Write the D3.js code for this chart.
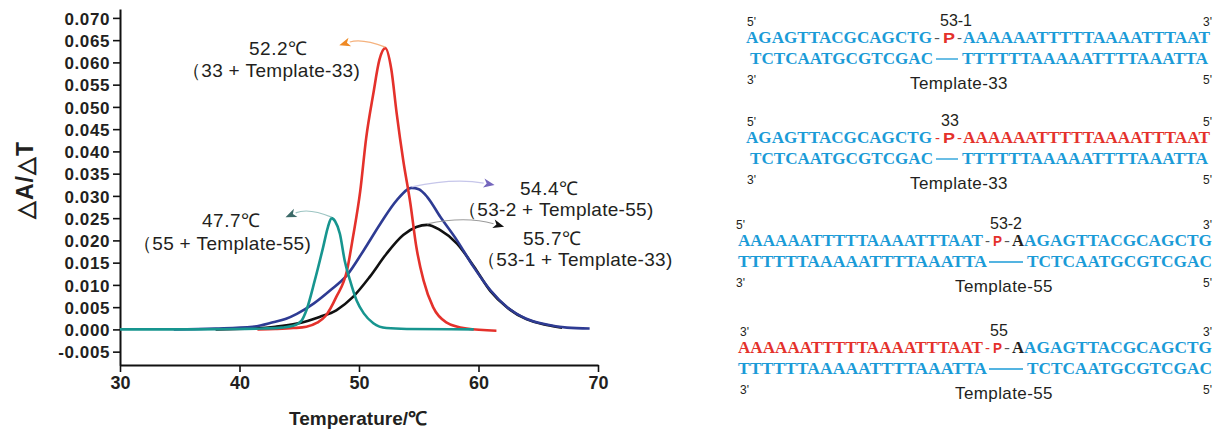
<!DOCTYPE html>
<html>
<head>
<meta charset="utf-8">
<script src="https://cdn.jsdelivr.net/npm/d3@7"></script>
<style>
  body { margin: 0; background: #fff; }
  svg { display: block; }
</style>
</head>
<body>
<div id="container"></div>
<script>
// DATA

const temp33 = [41.5, 43, 44.5, 45.6, 46.5, 47.2, 48.1, 49.0, 49.5, 50.1, 50.6, 51.2, 51.7, 52.2, 52.7, 53.15, 53.7, 54.3, 54.8, 55.4, 56.2, 57.3, 59, 61.5]
const val33  = [0, 0.0001, 0.0003, 0.0006, 0.0015, 0.003, 0.0073, 0.0133, 0.0208, 0.031, 0.043, 0.053, 0.0605, 0.0632, 0.0585, 0.0486, 0.038, 0.0283, 0.0185, 0.011, 0.005, 0.0016, 0.0002, -0.0003]

const temp55 = [30, 35, 40, 42, 43.5, 44.5, 45.2, 45.6, 46.3, 47.0, 47.4, 47.7, 48.0, 48.4, 48.8, 49.25, 49.8, 50.4, 51.2, 52.3, 54, 59.6]
const val55  = [0, 0, 0.0001, 0.0002, 0.0004, 0.0008, 0.002, 0.0043, 0.011, 0.0185, 0.023, 0.025, 0.0243, 0.0215, 0.0155, 0.011, 0.0065, 0.0036, 0.0014, 0.0003, 0.0001, 0]

const temp53_2 = [34.5, 38, 41.1, 42.8, 43.9, 44.8, 46.2, 47.6, 49.0, 50.4, 51.8, 53.15, 54.4, 55.0, 55.7, 56.8, 58.2, 59.6, 61.0, 62.4, 64.0, 65.7, 67.4, 69.3]
const val53_2  = [0, 0.0002, 0.0006, 0.0016, 0.0024, 0.0035, 0.0058, 0.0088, 0.0122, 0.0178, 0.0238, 0.029, 0.0318, 0.0315, 0.0298, 0.0253, 0.020, 0.014, 0.0088, 0.005, 0.0024, 0.0011, 0.0004, 0.0002]

const temp53_1 = [38, 41, 43, 44.8, 46.7, 48.1, 49.5, 50.9, 52.3, 53.7, 54.8, 55.7, 56.8, 58.2, 59.6, 61.0, 62.4, 64, 65.7, 67]
const val53_1  = [0, 0.0002, 0.0006, 0.0013, 0.0028, 0.0043, 0.0073, 0.0118, 0.017, 0.0212, 0.023, 0.0235, 0.0223, 0.0193, 0.0142, 0.0086, 0.0049, 0.0023, 0.001, 0.0004]

const seriesNames = ["53-1", "53-2", "33", "55"]
const meltTemps = ["55.7℃", "54.4℃", "52.2℃", "47.7℃"]
const pairLabels = ["（53-1 + Template-33)", "（53-2 + Template-55)", "（33 + Template-33)", "（55 + Template-55)"]

const yTicks = [-0.005, 0, 0.005, 0.01, 0.015, 0.02, 0.025, 0.03, 0.035, 0.04, 0.045, 0.05, 0.055, 0.06, 0.065, 0.07]
const xTicks = [30, 40, 50, 60, 70]

const seqA = "AGAGTTACGCAGCTG"
const seqB = "AAAAAATTTTTAAAATTTAAT"
const tmplA = "TCTCAATGCGTCGAC"
const tmplB = "TTTTTTAAAAATTTTAAATTA"
const duplexNames = ["53-1", "33", "53-2", "55"]
const templateNames = ["Template-33", "Template-33", "Template-55", "Template-55"]

// VARIABLES

const width = 1222,
      height = 432,
      margin = {top: 9, bottom: 67, left: 120, right: 624}

const colors = {"33": "#e4312b", "55": "#17958f", "53-2": "#2e3b93", "53-1": "#111111"}
const blue = "#1b9bd7", red = "#e4312b", ink = "#231f20", gray = "#555"

// SCALES

const xScale = d3.scaleLinear()
    .domain([30, 70])
    .range([margin.left, width - margin.right])

const yScale = d3.scaleLinear()
    .domain([-0.008, 0.072])
    .range([height - margin.bottom, margin.top])

// ELEMENTS

const svg = d3.select("#container")
    .append("svg")
    .attr("width", width)
    .attr("height", height)
    .style("font-family", "Arial, 'Liberation Sans', sans-serif")

const fmt = d => d3.format(".3f")(d).replace("−", "-")

const yAxis = d3.axisLeft(yScale).tickValues(yTicks).tickFormat(fmt).tickSize(7).tickSizeOuter(0)
const yMinor = d3.axisLeft(yScale).tickValues(d3.range(-0.0075, 0.072, 0.005)).tickFormat("").tickSize(4).tickSizeOuter(0)
const xAxis = d3.axisBottom(xScale).tickValues(xTicks).tickSize(7).tickSizeOuter(0)
const xMinor = d3.axisBottom(xScale).tickValues(d3.range(35, 70, 10)).tickFormat("").tickSize(4).tickSizeOuter(0)

const gy = svg.append("g").attr("transform", `translate(${margin.left},0)`)
gy.call(yMinor)
gy.call(yAxis)
const gx = svg.append("g").attr("transform", `translate(0,${height - margin.bottom})`)
gx.call(xMinor)
gx.call(xAxis)

svg.selectAll(".domain").attr("stroke", "#111").attr("stroke-width", 2)
svg.selectAll(".tick line").attr("stroke", "#111").attr("stroke-width", 1.6)
gy.selectAll("text").attr("font-size", 17).attr("font-weight", "bold").attr("fill", ink)
  .attr("x", -10).attr("dy", "0.36em").style("letter-spacing", "0.6px")
gx.selectAll("text").attr("font-size", 18).attr("font-weight", "bold").attr("fill", ink).attr("y", 11)

svg.append("text")
    .attr("x", 358).attr("y", 425)
    .attr("text-anchor", "middle")
    .attr("font-size", 19).attr("font-weight", "bold").attr("fill", ink)
    .text("Temperature/℃")

svg.append("text")
    .attr("transform", "translate(33,180) rotate(-90)")
    .attr("text-anchor", "middle")
    .attr("font-size", 23).attr("font-weight", "bold").attr("fill", ink)
    .style("letter-spacing", "1px")
    .text("△A/△T")

// SELECT-JOIN-DRAW

const series = [
  {name: "53-1", t: temp53_1, v: val53_1},
  {name: "53-2", t: temp53_2, v: val53_2},
  {name: "33", t: temp33, v: val33},
  {name: "55", t: temp55, v: val55}
]

const line = d3.line()
    .x(d => xScale(d[0]))
    .y(d => yScale(d[1]))
    .curve(d3.curveMonotoneX)

svg.selectAll("path.curve")
    .data(series)
    .join("path")
    .attr("class", "curve")
    .attr("d", s => line(d3.zip(s.t, s.v)))
    .attr("fill", "none")
    .attr("stroke", s => colors[s.name])
    .attr("stroke-width", 2.6)
    .attr("stroke-linejoin", "round")

// ANNOTATIONS

const annot = {
  "53-1": {dx: 77, dy: 3, bend: 6, line: "#9c9c9c", head: "#111", tx: [523, 477], ty: [245, 266]},
  "53-2": {dx: 83, dy: -2, bend: 5, line: "#c6c6ea", head: "#7466bd", tx: [520, 458], ty: [195, 216]},
  "33":   {dx: -46, dy: -2, bend: 5, line: "#f5b27e", head: "#ef8a25", tx: [249, 182], ty: [55, 77]},
  "55":   {dx: -46, dy: 0, bend: 6, line: "#9cc4c2", head: "#3c6a68", tx: [202, 133], ty: [227, 250]}
}

series.forEach((s, i) => {
  const k = d3.maxIndex(s.v)
  const x0 = xScale(s.t[k]), y0 = yScale(s.v[k]) - 1
  const a = annot[s.name]
  const x1 = x0 + a.dx, y1 = y0 + a.dy
  const cx = (x0 + x1) / 2, cy = (y0 + y1) / 2 - a.bend * 1.6
  const ang = Math.atan2(y1 - cy, x1 - cx)
  const len = 11, hw = 4.5
  const bx = x1 - len * Math.cos(ang), by = y1 - len * Math.sin(ang)
  svg.append("path")
      .attr("d", `M${x0},${y0}Q${cx},${cy} ${bx},${by}`)
      .attr("fill", "none").attr("stroke", a.line).attr("stroke-width", 1.2)
  svg.append("path")
      .attr("d", `M${x1},${y1}L${bx - hw * Math.sin(ang)},${by + hw * Math.cos(ang)}L${bx + 3 * Math.cos(ang)},${by + 3 * Math.sin(ang)}L${bx + hw * Math.sin(ang)},${by - hw * Math.cos(ang)}Z`)
      .attr("fill", a.head)
  const idx = seriesNames.indexOf(s.name)
  svg.append("text").attr("x", a.tx[0]).attr("y", a.ty[0])
      .attr("font-size", 19).attr("fill", ink).style("letter-spacing", "0.5px")
      .text(meltTemps[idx])
  svg.append("text").attr("x", a.tx[1]).attr("y", a.ty[1])
      .attr("font-size", 19).attr("fill", ink).style("letter-spacing", "0.3px")
      .text(pairLabels[idx])
})

// DUPLEX PANELS

const panels = [
  {y: 0, ends: ["5'", "3'"], endX: 747, nameX: 956,
   top: [[seqA, blue, 746, 932, "s"], ["-", gray, 934, 940, "h"], ["P", red, 943, 955, "p"], ["-", gray, 957, 962, "h"], [seqB, blue, 963, 1210, "s"]],
   bot: [[tmplA, blue, 750, 933], [null, blue, 936, 958], [tmplB, blue, 962, 1208]], tmplX: 959},
  {y: 100, ends: ["5'", "5'"], endX: 747, nameX: 950,
   top: [[seqA, blue, 746, 932, "s"], ["-", red, 935, 940, "h"], ["P", red, 943, 955, "p"], ["-", red, 957, 962, "h"], [seqB, red, 963, 1210, "s"]],
   bot: [[tmplA, blue, 750, 933], [null, blue, 936, 958], [tmplB, blue, 962, 1208]], tmplX: 959},
  {y: 203, ends: ["5'", "3'"], endX: 736, nameX: 1006,
   top: [[seqB, blue, 738, 983, "s"], ["-", gray, 985, 990, "h"], ["P", red, 993, 1002, "p"], ["-", gray, 1004, 1010, "h"], ["A", ink, 1012, 1024, "s"], [seqA, blue, 1024, 1212, "s"]],
   bot: [[tmplB, blue, 738, 987], [null, blue, 989, 1023], [tmplA, blue, 1027, 1212]], tmplX: 1004},
  {y: 310, ends: ["3'", "3'"], endX: 740, nameX: 999,
   top: [[seqB, red, 738, 983, "s"], ["-", red, 985, 990, "h"], ["P", red, 993, 1002, "p"], ["-", gray, 1004, 1010, "h"], ["A", ink, 1012, 1024, "s"], [seqA, blue, 1024, 1212, "s"]],
   bot: [[tmplB, blue, 738, 987], [null, blue, 989, 1023], [tmplA, blue, 1027, 1212]], tmplX: 1004}
]

panels.forEach((p, i) => {
  const g = svg.append("g").attr("transform", `translate(0,${p.y})`)
  const by = 43
  // end labels
  g.append("text").attr("x", p.endX).attr("y", 26).attr("font-size", 12).attr("fill", ink).text(p.ends[0])
  g.append("text").attr("x", 1203).attr("y", 26).attr("font-size", 12).attr("fill", ink).text(p.ends[1])
  g.append("text").attr("x", p.endX).attr("y", 84).attr("font-size", 12).attr("fill", ink).text("3'")
  g.append("text").attr("x", 1203).attr("y", 84).attr("font-size", 12).attr("fill", ink).text("5'")
  g.append("text").attr("x", p.nameX).attr("y", 26).attr("text-anchor", "middle")
      .attr("font-size", 16).attr("fill", ink).text(duplexNames[i])
  g.append("text").attr("x", p.tmplX).attr("y", 89).attr("text-anchor", "middle")
      .attr("font-size", 17).attr("fill", ink).style("letter-spacing", "0.4px").text(templateNames[i])
  // top strand
  p.top.forEach(([txt, col, x0, x1, kind]) => {
    const t = g.append("text").attr("x", x0).attr("y", by).attr("fill", col).text(txt)
    if (kind === "s") {
      t.attr("font-family", "'Liberation Serif', 'Times New Roman', serif").attr("font-weight", "bold")
       .attr("font-size", 17).attr("textLength", x1 - x0).attr("lengthAdjust", "spacingAndGlyphs")
    } else if (kind === "p") {
      t.attr("font-weight", "bold").attr("font-size", 15).attr("textLength", x1 - x0).attr("lengthAdjust", "spacingAndGlyphs")
    } else {
      t.attr("font-size", 15).attr("textLength", x1 - x0).attr("lengthAdjust", "spacingAndGlyphs")
    }
  })
  // bottom strand
  p.bot.forEach(([txt, col, x0, x1]) => {
    if (txt === null) {
      g.append("line").attr("x1", x0).attr("x2", x1).attr("y1", 59).attr("y2", 59)
          .attr("stroke", col).attr("stroke-width", 1.3)
    } else {
      g.append("text").attr("x", x0).attr("y", 64).attr("fill", col).text(txt)
          .attr("font-family", "'Liberation Serif', 'Times New Roman', serif").attr("font-weight", "bold")
          .attr("font-size", 17).attr("textLength", x1 - x0).attr("lengthAdjust", "spacingAndGlyphs")
    }
  })
})
</script>
</body>
</html>
